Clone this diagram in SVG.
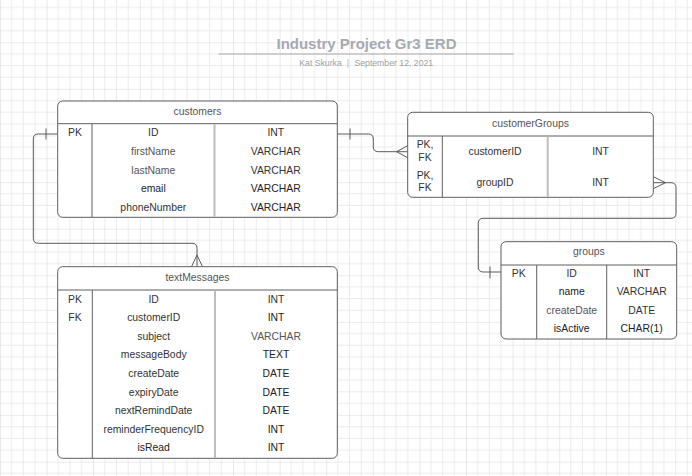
<svg xmlns="http://www.w3.org/2000/svg" width="692" height="476" viewBox="0 0 692 476">
<defs>
<pattern id="grid" patternUnits="userSpaceOnUse" x="0" y="-4.3" width="46.6" height="46.6">
<path d="M11.65 0V46.6M23.3 0V46.6M34.95 0V46.6M0 11.65H46.6M0 23.3H46.6M0 34.95H46.6" stroke="#ebebeb" stroke-width="1" fill="none"/>
<path d="M0 0V46.6M0 0H46.6" stroke="#dadada" stroke-width="1.2" fill="none"/>
</pattern>
<style>
.box{fill:#fff;stroke:#5f5f5f;stroke-width:1}
.ln{stroke:#5f5f5f;stroke-width:1;fill:none}
.dv{stroke:#bdbdbd;stroke-width:2;fill:none}
text{font-family:"Liberation Sans",Arial,sans-serif;font-size:10.4px;fill:#333;text-anchor:middle;dominant-baseline:central}
.hd{fill:#555}
.lt{fill:#555}
.dk{fill:#222}
.con{stroke:#5a5a5a;stroke-width:1;fill:none}
</style>
</defs>
<rect width="692" height="476" fill="#fff"/>
<rect width="692" height="476" fill="url(#grid)"/>

<g id="title">
<text x="366.5" y="43.5" style="font-size:15px;font-weight:bold;fill:#a6aab2">Industry Project Gr3 ERD</text>
<line x1="218.5" y1="54" x2="513.5" y2="54" stroke="#a8a8a8" stroke-width="1"/>
<text x="320.5" y="63" style="font-size:8.7px;fill:#a0a0a0">Kat Skurka</text>
<text x="348" y="63" style="font-size:8.7px;fill:#b0b0b0">|</text>
<text x="393.8" y="63" style="font-size:8.7px;fill:#a0a0a0">September 12, 2021</text>
</g>

<g id="connectors">
<path class="con" d="M57.7 134H38.3Q33.3 134 33.3 139V238.3Q33.3 243.3 38.3 243.3H192Q197 243.3 197 248.3V266.7"/>
<path class="con" d="M46 128.5V139.5"/>
<path class="con" d="M191.5 266.7L197 255L202.5 266.7"/>
<path class="con" d="M337.3 134H368.3Q373.3 134 373.3 139V146.7Q373.3 151.7 378.3 151.7H407.7"/>
<path class="con" d="M350 128.5V139.5"/>
<path class="con" d="M407.7 145.7L396.5 151.7L407.7 157.7"/>
<path class="con" d="M653.3 182.7H671Q676 182.7 676 187.7V213.3Q676 218.3 671 218.3H483.3Q478.3 218.3 478.3 223.3V267Q478.3 272 483.3 272H501"/>
<path class="con" d="M490 266.5V278.3"/>
<path class="con" d="M653.3 176.7L665.5 182.7L653.3 188.7"/>
</g>

<g id="customers">
<rect class="box" x="57.7" y="101" width="279.6" height="116.3" rx="5"/>
<line class="ln" x1="57.7" y1="123.7" x2="337.3" y2="123.7"/>
<line class="ln" x1="92" y1="123.7" x2="92" y2="217.3"/>
<line class="dv" x1="214.5" y1="124.2" x2="214.5" y2="216.8"/>
<text class="hd" x="197.5" y="111.8">customers</text>
<text x="75" y="132.7">PK</text>
<text x="153.3" y="132.7">ID</text>
<text x="275.8" y="132.7">INT</text>
<text class="lt" x="153.3" y="151.4">firstName</text>
<text x="275.8" y="151.4">VARCHAR</text>
<text class="lt" x="153.3" y="170">lastName</text>
<text x="275.8" y="170">VARCHAR</text>
<text class="dk" x="153.3" y="188.7">email</text>
<text class="dk" x="275.8" y="188.7">VARCHAR</text>
<text x="153.3" y="207.3">phoneNumber</text>
<text class="dk" x="275.8" y="207.3">VARCHAR</text>
</g>

<g id="customerGroups">
<rect class="box" x="407.7" y="112.3" width="245.6" height="85" rx="5"/>
<line class="ln" x1="407.7" y1="136" x2="653.3" y2="136"/>
<line class="ln" x1="442.3" y1="136" x2="442.3" y2="197.3"/>
<line class="dv" x1="547.7" y1="136.5" x2="547.7" y2="196.8"/>
<text class="hd" x="530.5" y="123.5">customerGroups</text>
<text x="425" y="144.3">PK,</text>
<text x="425" y="157.3">FK</text>
<text x="495" y="151.7">customerID</text>
<text x="600.5" y="151.7">INT</text>
<text x="425" y="175">PK,</text>
<text x="425" y="187.7">FK</text>
<text x="495" y="182.7">groupID</text>
<text x="600.5" y="182.7">INT</text>
</g>

<g id="groups">
<rect class="box" x="501" y="241.7" width="175.7" height="97.3" rx="5"/>
<line class="ln" x1="501" y1="265" x2="676.7" y2="265"/>
<line class="ln" x1="536.7" y1="265" x2="536.7" y2="339"/>
<line class="ln" x1="606.7" y1="265" x2="606.7" y2="339"/>
<text class="hd" x="588.8" y="251.3">groups</text>
<text x="518.8" y="273.3">PK</text>
<text x="571.7" y="273.3">ID</text>
<text x="641.7" y="273.3">INT</text>
<text class="dk" x="571.7" y="291.7">name</text>
<text x="641.7" y="291.7">VARCHAR</text>
<text class="lt" x="571.7" y="310">createDate</text>
<text x="641.7" y="310">DATE</text>
<text class="dk" x="571.7" y="328.3">isActive</text>
<text class="dk" x="641.7" y="328.3">CHAR(1)</text>
</g>

<g id="textMessages">
<rect class="box" x="57.7" y="266.7" width="279.6" height="191.6" rx="5"/>
<line class="ln" x1="57.7" y1="290" x2="337.3" y2="290"/>
<line class="ln" x1="92.3" y1="290" x2="92.3" y2="458.3"/>
<line class="dv" x1="215" y1="290.5" x2="215" y2="457.8"/>
<text class="hd" x="197.5" y="277.5">textMessages</text>
<text x="75" y="299">PK</text>
<text x="153.7" y="299">ID</text>
<text x="276" y="299">INT</text>
<text x="75" y="317.6">FK</text>
<text x="153.7" y="317.6">customerID</text>
<text class="dk" x="276" y="317.6">INT</text>
<text x="153.7" y="336.2">subject</text>
<text class="lt" x="276" y="336.2">VARCHAR</text>
<text x="153.7" y="354.8">messageBody</text>
<text class="dk" x="276" y="354.8">TEXT</text>
<text x="153.7" y="373.4">createDate</text>
<text class="dk" x="276" y="373.4">DATE</text>
<text x="153.7" y="392">expiryDate</text>
<text class="dk" x="276" y="392">DATE</text>
<text x="153.7" y="410.6">nextRemindDate</text>
<text class="dk" x="276" y="410.6">DATE</text>
<text x="153.7" y="429.2">reminderFrequencyID</text>
<text class="dk" x="276" y="429.2">INT</text>
<text class="dk" x="153.7" y="447.8">isRead</text>
<text class="dk" x="276" y="447.8">INT</text>
</g>
</svg>
